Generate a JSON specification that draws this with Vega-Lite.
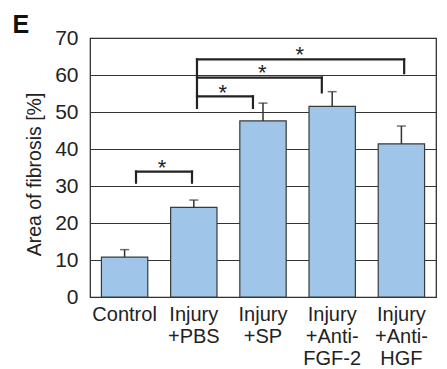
{
  "$schema": "https://vega.github.io/schema/vega-lite/v6.json",
  "width": 346,
  "height": 259,
  "autosize": {"type": "none"},
  "padding": {"left": 90, "top": 38, "right": 11, "bottom": 72},
  "config": {
    "font": "Liberation Sans",
    "view": {"stroke": "#222", "strokeWidth": 1.2},
    "axis": {"labelFont": "Liberation Sans", "titleFont": "Liberation Sans", "labelColor": "#222", "titleColor": "#222"}
  },
  "datasets": {
    "bars": [
      {"group": "Control", "mean": 10.8, "upper": 12.8},
      {"group": "Injury|+PBS", "mean": 24.2, "upper": 26.2},
      {"group": "Injury|+SP", "mean": 47.6, "upper": 52.4},
      {"group": "Injury|+Anti-|FGF-2", "mean": 51.5, "upper": 55.5},
      {"group": "Injury|+Anti-|HGF", "mean": 41.4, "upper": 46.2}
    ],
    "brackets": [
      {"x": 0.665, "x2": 1.474, "y": 33.9, "y2": 33.9},
      {"x": 0.665, "x2": 0.665, "y": 33.9, "y2": 30.9},
      {"x": 1.474, "x2": 1.474, "y": 33.9, "y2": 30.9},
      {"x": 1.546, "x2": 1.546, "y": 64.2, "y2": 51.1},
      {"x": 1.546, "x2": 2.355, "y": 54.2, "y2": 54.2},
      {"x": 2.355, "x2": 2.355, "y": 54.2, "y2": 51.1},
      {"x": 1.546, "x2": 3.35, "y": 59.3, "y2": 59.3},
      {"x": 3.35, "x2": 3.35, "y": 59.3, "y2": 55.3},
      {"x": 1.546, "x2": 4.54, "y": 64.2, "y2": 64.2},
      {"x": 4.54, "x2": 4.54, "y": 64.2, "y2": 60.5}
    ],
    "stars": [
      {"x": 1.04, "y": 36.0},
      {"x": 1.92, "y": 56.3},
      {"x": 2.49, "y": 61.7},
      {"x": 3.03, "y": 66.4}
    ]
  },
  "layer": [
    {
      "data": {"name": "bars"},
      "layer": [
        {
          "mark": {"type": "bar", "fill": "#9fc5e8", "stroke": "#3a3a3a", "strokeWidth": 1.2},
          "encoding": {
            "x": {"field": "group", "type": "nominal", "sort": null,
              "scale": {"paddingInner": 0.33, "paddingOuter": 0.165},
              "axis": {"title": null, "labelAngle": 0, "ticks": false, "domain": false, "labelFontSize": 20, "labelLineHeight": 22, "labelPadding": 7, "labelExpr": "split(datum.label, '|')", "labelBaseline": "top"}},
            "y": {"field": "mean", "type": "quantitative",
              "scale": {"domain": [0, 70]},
              "axis": {"title": "Area of fibrosis [%]", "values": [0, 10, 20, 30, 40, 50, 60, 70], "labelOverlap": false, "grid": true, "gridColor": "#333", "gridWidth": 1, "ticks": false, "domain": false, "labelFontSize": 21, "labelPadding": 12, "titleFontSize": 19.5, "titleFontWeight": "normal", "titlePadding": 10, "titleY": 136}}
          }
        },
        {
          "mark": {"type": "rule", "stroke": "#333", "strokeWidth": 1.5},
          "encoding": {
            "x": {"field": "group", "type": "nominal", "sort": null},
            "y": {"field": "mean", "type": "quantitative", "axis": {"values": [0, 10, 20, 30, 40, 50, 60, 70]}},
            "y2": {"field": "upper"}
          }
        },
        {
          "mark": {"type": "tick", "color": "#333", "thickness": 1.5, "size": 9},
          "encoding": {
            "x": {"field": "group", "type": "nominal", "sort": null},
            "y": {"field": "upper", "type": "quantitative", "axis": {"values": [0, 10, 20, 30, 40, 50, 60, 70]}}
          }
        }
      ]
    },
    {
      "data": {"name": "brackets"},
      "mark": {"type": "rule", "stroke": "#222", "strokeWidth": 2.2, "strokeCap": "square"},
      "encoding": {
        "x": {"field": "x", "type": "quantitative", "scale": {"domain": [0, 5]}, "axis": null},
        "x2": {"field": "x2"},
        "y": {"field": "y", "type": "quantitative", "axis": {"values": [0, 10, 20, 30, 40, 50, 60, 70]}},
        "y2": {"field": "y2"}
      }
    },
    {
      "data": {"name": "stars"},
      "mark": {"type": "text", "text": "*", "fontSize": 22, "baseline": "middle", "dy": 4, "color": "#222"},
      "encoding": {
        "x": {"field": "x", "type": "quantitative", "scale": {"domain": [0, 5]}, "axis": null},
        "y": {"field": "y", "type": "quantitative", "axis": {"values": [0, 10, 20, 30, 40, 50, 60, 70]}}
      }
    },
    {
      "data": {"values": [{"panel": "E"}]},
      "mark": {"type": "text", "fontSize": 25, "fontWeight": "bold", "align": "left", "baseline": "alphabetic", "color": "#111"},
      "encoding": {
        "text": {"field": "panel"},
        "x": {"datum": -1.12, "type": "quantitative", "scale": {"domain": [0, 5]}, "axis": null},
        "y": {"datum": 71.4, "type": "quantitative", "axis": {"values": [0, 10, 20, 30, 40, 50, 60, 70]}}
      }
    }
  ],
  "resolve": {"scale": {"x": "independent"}}
}
